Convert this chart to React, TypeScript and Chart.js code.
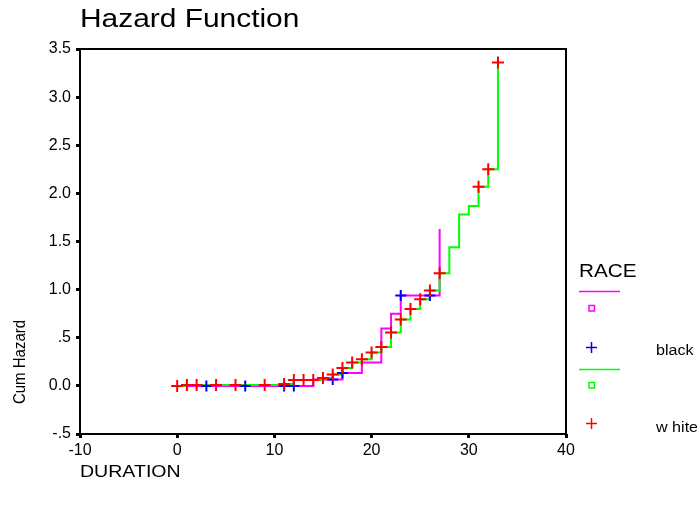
import { useEffect, useRef } from "react";
import { Chart, registerables } from "chart.js";

Chart.register(...registerables);

// white group (green step line) – cumulative hazard after each step
const whiteTimes = [0, 1, 11, 12, 15, 16, 17, 18, 19, 20, 21, 22, 23, 24, 25, 26, 27, 28, 29, 30, 31, 32, 33];
const whiteHazard = [0.0, 0.008, 0.02, 0.06, 0.083, 0.118, 0.187, 0.243, 0.277, 0.347, 0.405, 0.555, 0.69, 0.8, 0.9, 0.99, 1.17, 1.44, 1.78, 1.87, 2.07, 2.25, 3.36];
// white censored marks (red +)
const whiteCensorTimes = [0, 1, 2, 4, 6, 9, 11, 12, 13, 14, 15, 16, 17, 18, 19, 20, 21, 22, 23, 24, 25, 26, 27, 31, 32, 33];
const whiteCensorHazard = [0, 0.008, 0.008, 0.008, 0.008, 0.008, 0.02, 0.06, 0.06, 0.06, 0.083, 0.118, 0.187, 0.243, 0.277, 0.347, 0.405, 0.555, 0.69, 0.8, 0.9, 0.99, 1.17, 2.07, 2.25, 3.36];

// black group (magenta step line)
const blackTimes = [0, 14, 17, 19, 21, 22, 23, 27];
const blackHazard = [0, 0.066, 0.135, 0.243, 0.596, 0.75, 0.94, 1.63];
// black censored marks (blue +)
const blackCensorTimes = [3, 7, 11, 12, 16, 17, 23, 26];
const blackCensorHazard = [0, 0, 0, 0, 0.066, 0.135, 0.94, 0.94];

const xTickValues = [-10, 0, 10, 20, 30, 40];
const yTickLabels: Record<string, string> = {
  "3.5": "3.5", "3": "3.0", "2.5": "2.5", "2": "2.0", "1.5": "1.5",
  "1": "1.0", "0.5": ".5", "0": "0.0", "-0.5": "-.5",
};

const FONT = '"Liberation Sans", Arial, sans-serif';
const SX = 1.15;

function pts(xs: number[], ys: number[]) {
  return xs.map((x, i) => ({ x, y: ys[i] }));
}

export default function App() {
  const ref = useRef<HTMLCanvasElement>(null);

  useEffect(() => {
    const canvas = ref.current!;
    const textPlugin = {
      id: "customTexts",
      afterDraw(chart: any) {
        const c = chart.ctx as CanvasRenderingContext2D;
        const a = chart.chartArea;
        c.save();
        // frame
        c.strokeStyle = "#000";
        c.lineWidth = 2;
        c.strokeRect(a.left, a.top, a.right - a.left, a.bottom - a.top);

        c.fillStyle = "#000";
        const stretchText = (t: string, x: number, y: number, size: number, base: CanvasTextBaseline, align: CanvasTextAlign = "left") => {
          c.save();
          c.translate(x, y);
          c.scale(SX, 1);
          c.font = `${size}px ${FONT}`;
          c.textBaseline = base;
          c.textAlign = align;
          c.fillText(t, 0, 0);
          c.restore();
        };
        // title
        stretchText("Hazard Function", 80, 27, 26, "alphabetic");
        // x axis title
        stretchText("DURATION", 80, 477, 17, "alphabetic");
        // y axis title
        c.save();
        c.translate(20, 362);
        c.scale(SX, 1);
        c.rotate(-Math.PI / 2);
        c.font = `15px ${FONT}`;
        c.textAlign = "center";
        c.textBaseline = "middle";
        c.fillText("Cum Hazard", 0, 0);
        c.restore();

        // legend
        stretchText("RACE", 579, 277, 18, "alphabetic");
        c.lineWidth = 1.5;
        c.strokeStyle = "#ff00ff";
        c.beginPath(); c.moveTo(579, 291.5); c.lineTo(620, 291.5); c.stroke();
        c.strokeRect(589, 305.5, 5.5, 5.5);
        c.strokeStyle = "#0000ff";
        c.beginPath(); c.moveTo(586, 347.5); c.lineTo(597, 347.5); c.moveTo(591.5, 342); c.lineTo(591.5, 353); c.stroke();
        stretchText("black", 656, 355, 14, "alphabetic");
        c.strokeStyle = "#00ff00";
        c.beginPath(); c.moveTo(579, 369.5); c.lineTo(620, 369.5); c.stroke();
        c.strokeRect(589, 382.5, 5.5, 5.5);
        c.strokeStyle = "#ff0000";
        c.beginPath(); c.moveTo(586, 423.5); c.lineTo(597, 423.5); c.moveTo(591.5, 418); c.lineTo(591.5, 429); c.stroke();
        stretchText("w hite", 656, 432, 14, "alphabetic");
        c.restore();
      },
    };

    const chart = new Chart(canvas, {
      type: "line",
      data: {
        datasets: [
          {
            label: "white censored",
            data: pts(whiteCensorTimes, whiteCensorHazard),
            showLine: false,
            pointStyle: "cross",
            pointRadius: 6,
            pointBorderWidth: 2,
            borderColor: "#ff0000",
            backgroundColor: "#ff0000",
            order: 1,
          },
          {
            label: "black censored",
            data: pts(blackCensorTimes, blackCensorHazard),
            showLine: false,
            pointStyle: "cross",
            pointRadius: 5.5,
            pointBorderWidth: 2,
            borderColor: "#0000ff",
            backgroundColor: "#0000ff",
            order: 2,
          },
          {
            label: "white",
            data: pts(whiteTimes, whiteHazard),
            stepped: "before",
            borderColor: "#00ff00",
            borderWidth: 2,
            pointRadius: 0,
            fill: false,
            order: 3,
          },
          {
            label: "black",
            data: pts(blackTimes, blackHazard),
            stepped: "before",
            borderColor: "#ff00ff",
            borderWidth: 2,
            pointRadius: 0,
            fill: false,
            order: 4,
          },
        ],
      },
      options: {
        responsive: false,
        animation: false,
        devicePixelRatio: 1,
        layout: { padding: { left: 0, top: 49, right: 131, bottom: 0 } },
        plugins: { legend: { display: false }, title: { display: false }, tooltip: { enabled: false } },
        scales: {
          x: {
            type: "linear",
            min: -10,
            max: 40,
            afterFit: (s: any) => { s.height = 74; },
            afterBuildTicks: (s: any) => { s.ticks = xTickValues.map((v) => ({ value: v })); },
            ticks: {
              stepSize: 10,
              color: "#000",
              padding: 3,
              maxRotation: 0,
              font: { family: FONT, size: 16 },
            },
            grid: { display: true, drawOnChartArea: false, drawTicks: true, tickLength: 4, tickWidth: 3, tickColor: "#000" },
            border: { display: false },
          },
          y: {
            type: "linear",
            min: -0.5,
            max: 3.5,
            afterFit: (s: any) => { s.width = 80; },
            ticks: {
              stepSize: 0.5,
              color: "#000",
              padding: 5,
              font: { family: FONT, size: 16 },
              callback: (v: any) => yTickLabels[String(Number(v))] ?? String(v),
            },
            grid: { display: true, drawOnChartArea: false, drawTicks: true, tickLength: 4, tickWidth: 3, tickColor: "#000" },
            border: { display: false },
          },
        },
      },
      plugins: [textPlugin],
    });
    return () => chart.destroy();
  }, []);

  return (
    <div style={{ position: "absolute", left: 0, top: 0, width: 697, height: 508, background: "#fff" }}>
      <canvas ref={ref} width={697} height={508} style={{ display: "block" }} />
    </div>
  );
}
